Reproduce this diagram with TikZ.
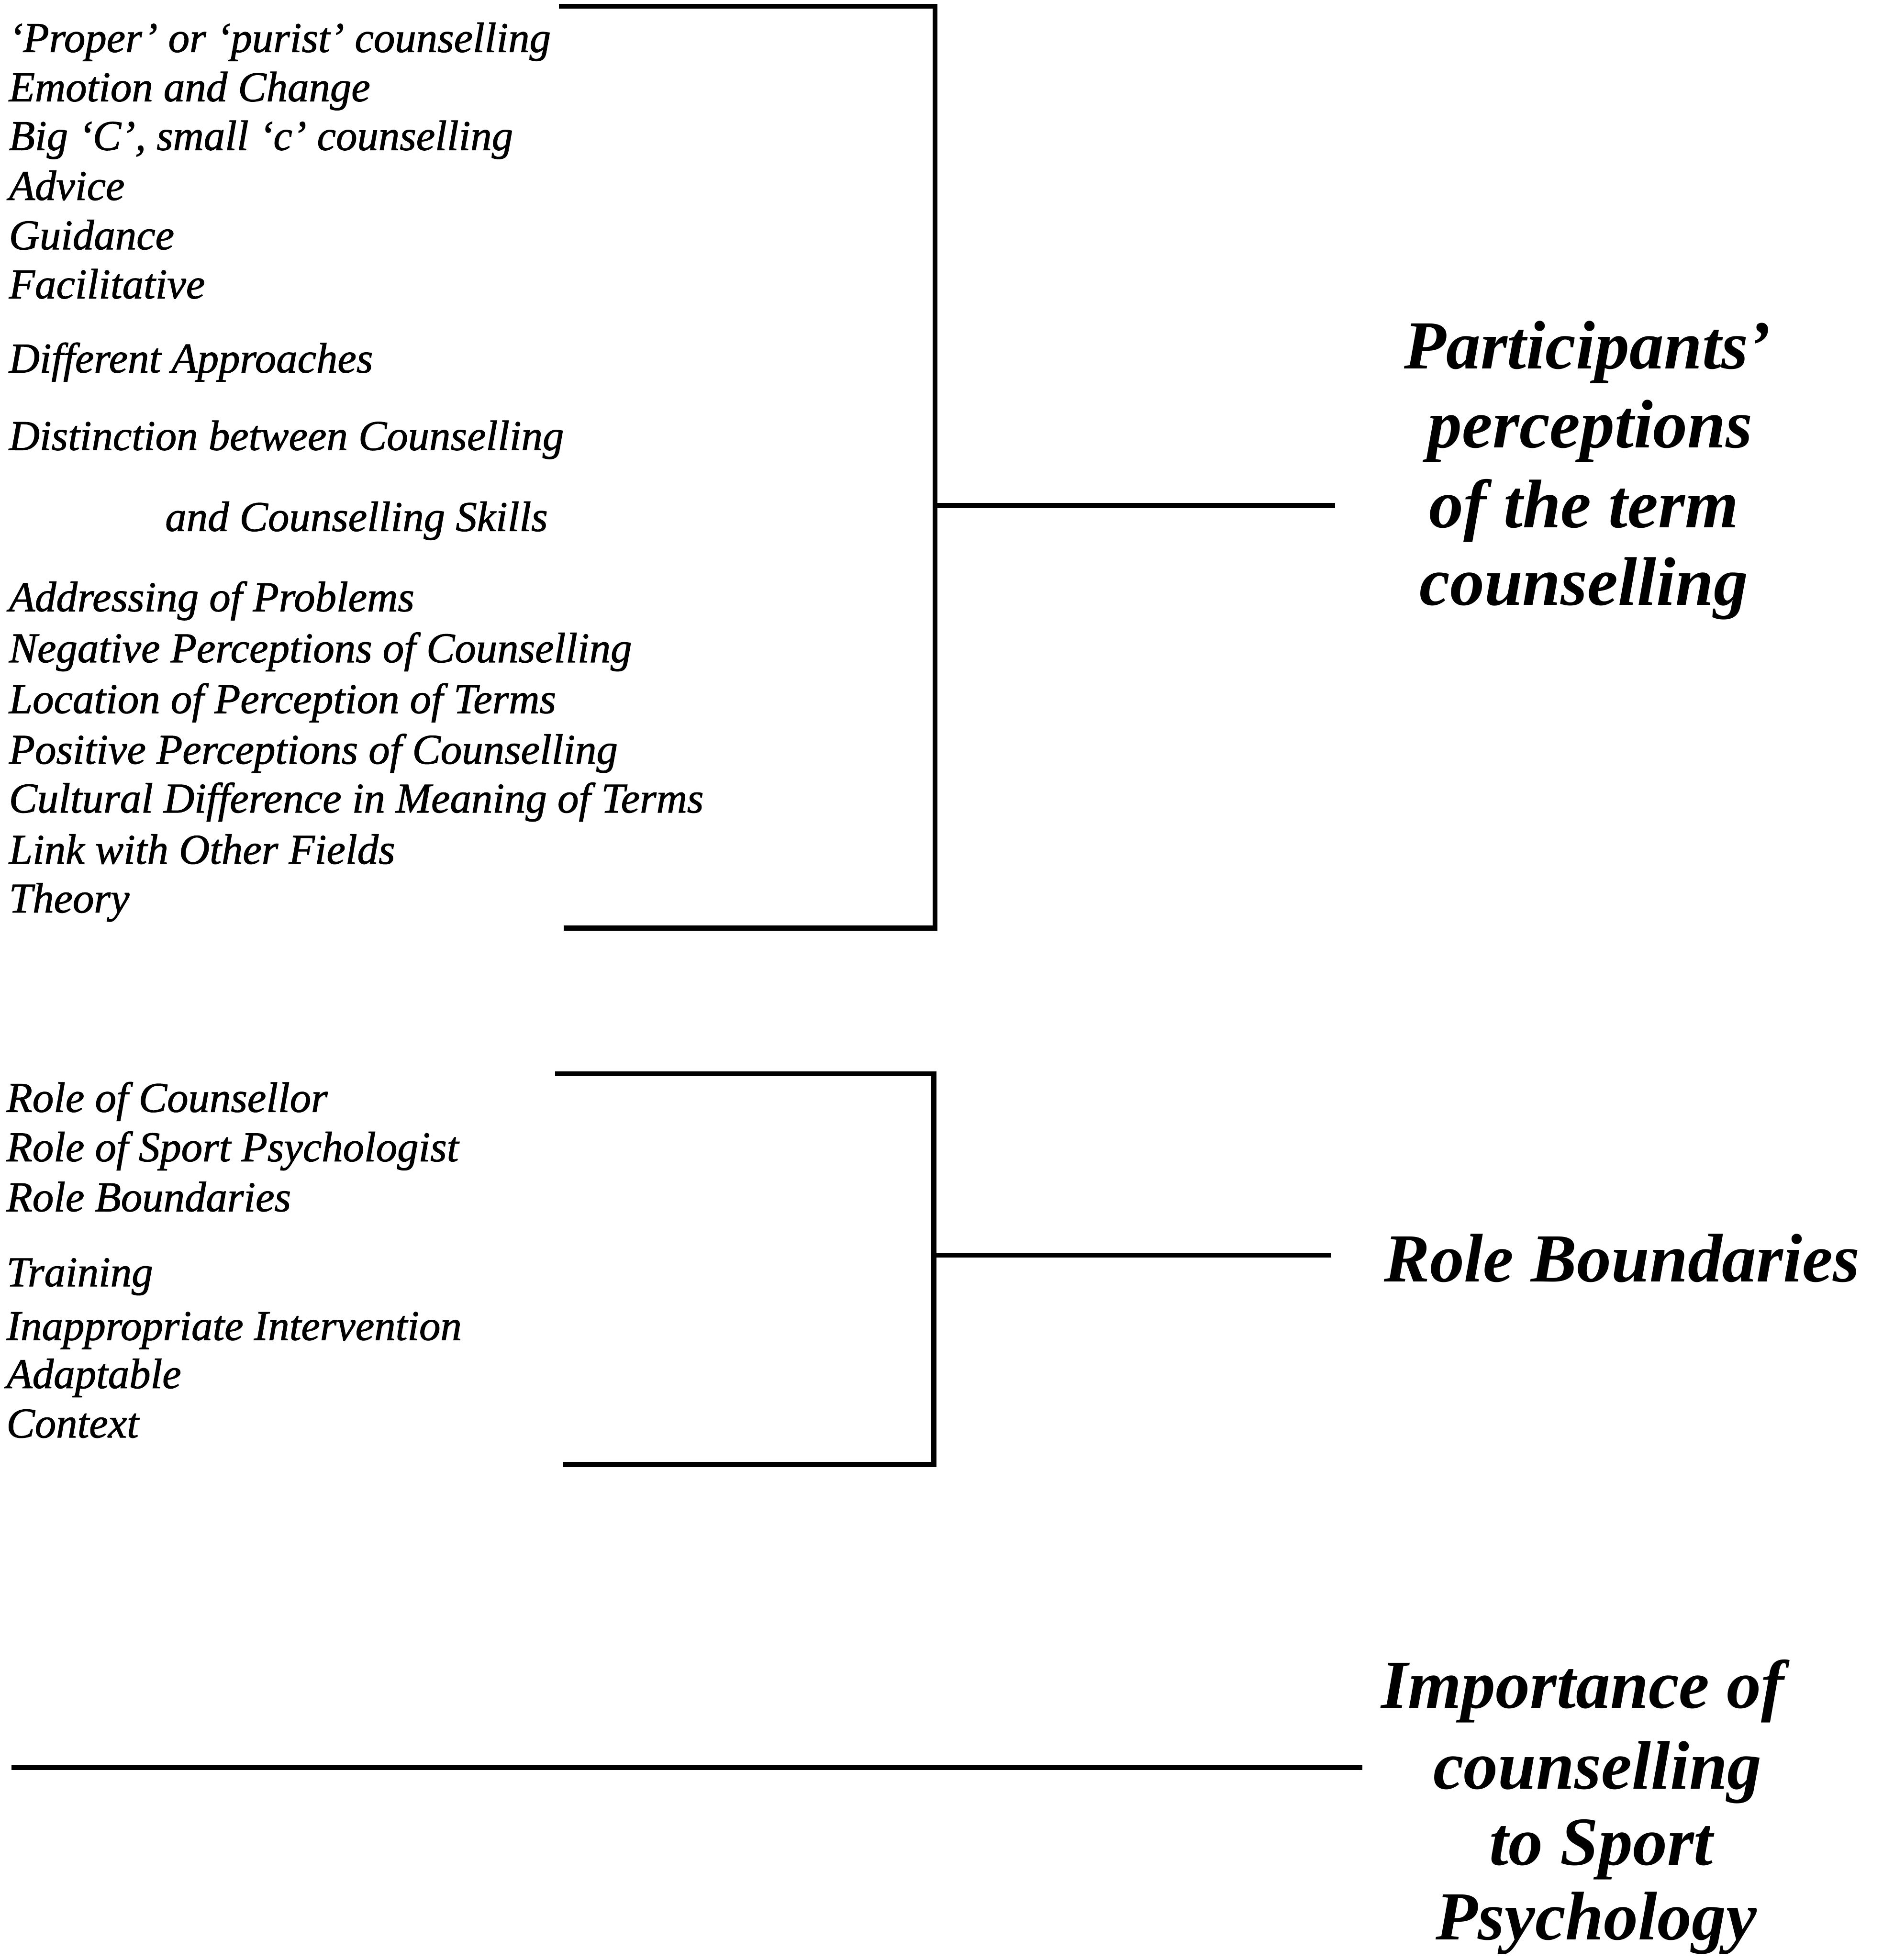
\documentclass[tikz,border=0pt]{standalone}
\usepackage{fontspec}
\setmainfont{Liberation Serif}
% slightly heavier italic for the code lists
\newfontfamily\itemfont{Liberation Serif}[ItalicFeatures={FakeBold=1.2}]
\begin{document}
\begin{tikzpicture}[x=1pt,y=-1pt,
  item/.style={anchor=base west,inner sep=0pt,font=\fontsize{34}{40}\selectfont\itemfont\itshape},
  theme/.style={anchor=base,inner sep=0pt,font=\fontsize{55}{63}\selectfont\bfseries\itshape},
  rule/.style={line width=4pt,line cap=butt,line join=miter}]
\useasboundingbox (0,0) rectangle (1506,1568);

% ---- first group of codes ----
\node[item] (a1)  at (7,41.6)  {‘Proper’ or ‘purist’ counselling};
\node[item] (a2)  at (7,81)    {Emotion and Change};
\node[item] (a3)  at (7,120)   {Big ‘C’, small ‘c’ counselling};
\node[item] (a4)  at (7,160)   {Advice};
\node[item] (a5)  at (7,199.5) {Guidance};
\node[item] (a6)  at (7,238.7) {Facilitative};
\node[item] (a7)  at (7,298)   {Different Approaches};
\node[item] (a8)  at (7,360)   {Distinction between Counselling};
\node[item] (a9)  at (132,424.8) {and Counselling Skills};
\node[item] (a10) at (7,489)   {Addressing of Problems};
\node[item] (a11) at (7,529.8) {Negative Perceptions of Counselling};
\node[item] (a12) at (7,570.5) {Location of Perception of Terms};
\node[item] (a13) at (7,611)   {Positive Perceptions of Counselling};
\node[item] (a14) at (7,650)   {Cultural Difference in Meaning of Terms};
\node[item] (a15) at (7,691)   {Link with Other Fields};
\node[item] (a16) at (7,730)   {Theory};

% bracket of the first group
\coordinate (b1tl) at (447,5);
\coordinate (b1tr) at (748,5);
\coordinate (b1br) at (748,742.5);
\coordinate (b1bl) at (451,742.5);
\coordinate (b1m)  at (748,404.5);
\coordinate (b1e)  at (1068,404.5);
\draw[rule] (b1tl) -- (b1tr) -- (b1br) -- (b1bl);
\draw[rule] (b1m) -- (b1e);

% theme label of the first group
\node[theme] (p1) at (1270,295) {Participants’};
\node[theme] (p2) at (1272,358) {perceptions};
\node[theme] (p3) at (1267,422) {of the term};
\node[theme] (p4) at (1267,484) {counselling};

% ---- second group of codes ----
\node[item] (r1) at (5,889.5)  {Role of Counsellor};
\node[item] (r2) at (5,929)    {Role of Sport Psychologist};
\node[item] (r3) at (5,969)    {Role Boundaries};
\node[item] (r4) at (5,1029)   {Training};
\node[item] (r5) at (5,1072)   {Inappropriate Intervention};
\node[item] (r6) at (5,1110.5) {Adaptable};
\node[item] (r7) at (5,1150)   {Context};

% bracket of the second group
\coordinate (b2tl) at (444,859);
\coordinate (b2tr) at (747,859);
\coordinate (b2br) at (747,1171.5);
\coordinate (b2bl) at (450,1171.5);
\coordinate (b2m)  at (747,1004);
\coordinate (b2e)  at (1065,1004);
\draw[rule] (b2tl) -- (b2tr) -- (b2br) -- (b2bl);
\draw[rule] (b2m) -- (b2e);

\node[theme,anchor=base west] (rb) at (1107,1025.5) {Role Boundaries};

% ---- third theme ----
\coordinate (c1s) at (9,1414);
\coordinate (c1e) at (1090,1414);
\draw[rule] (c1s) -- (c1e);

\node[theme] (i1) at (1266,1366.5) {Importance of};
\node[theme] (i2) at (1278,1431)   {counselling};
\node[theme] (i3) at (1281,1492)   {to Sport};
\node[theme] (i4) at (1277,1551.7) {Psychology};
\end{tikzpicture}
\end{document}
